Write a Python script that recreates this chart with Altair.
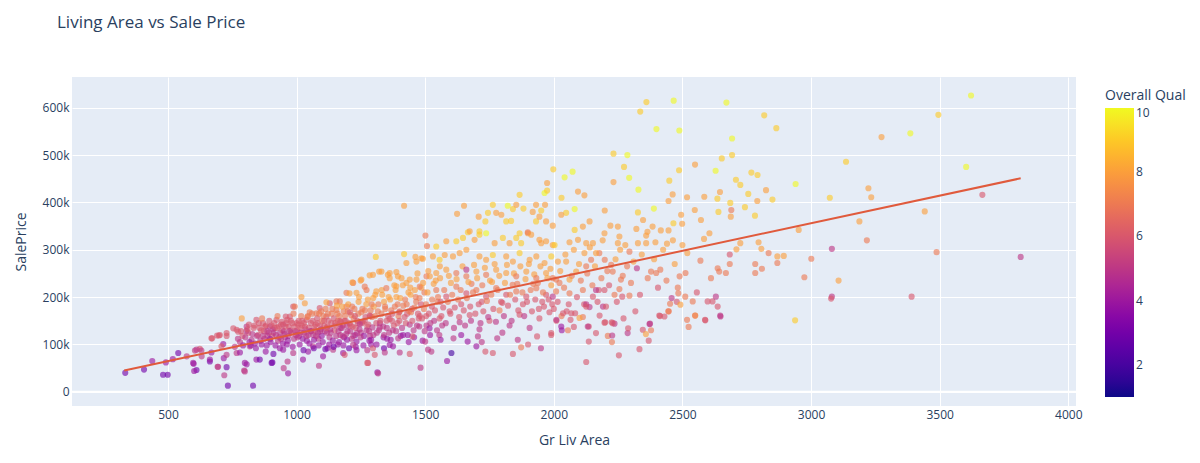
import altair as alt
import pandas as pd

# Points: (Gr Liv Area, SalePrice in $k, Overall Qual), grouped by region
low_end = [
    (334, 40, 3), (407, 47, 3), (439, 65, 4), (481, 36, 3), (499, 36, 3), (492, 62, 4), (519, 69, 4),
    (540, 82, 3), (573, 75, 5), (600, 59, 4), (611, 46, 3), (605, 87, 5), (624, 91, 6), (631, 75, 5),
    (663, 64, 3), (693, 53, 5), (672, 113, 6), (698, 119, 6), (715, 101, 4), (717, 71, 4), (728, 52, 3),
    (733, 13, 3), (719, 35, 5), (767, 82, 5), (787, 155, 8), (796, 45, 5), (831, 13, 3), (602, 44, 4),
    (691, 119, 6), (728, 118, 6), (799, 43, 5), (806, 58, 4), (903, 61, 3), (950, 50, 5), (967, 39, 4),
    (965, 64, 5), (799, 61, 4), (844, 68, 4), (857, 68, 3), (906, 62, 3), (780, 83, 4), (728, 78, 5),
    (708, 96, 6), (669, 83, 4), (663, 68, 4), (630, 87, 5), (611, 89, 5), (695, 53, 5), (598, 61, 4),
    (669, 113, 6), (702, 120, 6), (728, 124, 6), (754, 134, 6), (773, 127, 6), (818, 96, 5), (948, 89, 4),
    (987, 82, 5), (880, 85, 4), (910, 80, 3), (935, 92, 4),
]

core_low = [
    (767, 131, 6), (806, 138, 5), (844, 152, 6), (870, 145, 6), (896, 138, 5), (922, 152, 6), (948, 142, 5),
    (974, 159, 6), (1000, 145, 6), (1039, 152, 6), (1077, 166, 7), (1116, 159, 6), (1155, 173, 7),
    (1194, 180, 7), (1025, 68, 4), (1064, 96, 5), (1103, 75, 4), (1142, 89, 5), (1181, 82, 4), (1087, 55, 5),
    (1275, 61, 6), (1314, 41, 4), (1045, 85, 4), (1120, 92, 4), (1160, 100, 4), (1230, 95, 4), (1275, 88, 5),
    (1290, 100, 4), (1340, 92, 3), (780, 105, 5), (790, 118, 6), (812, 125, 6), (825, 110, 5), (838, 102, 4),
    (850, 120, 6), (862, 130, 6), (875, 112, 5), (884, 98, 4), (892, 125, 5), (905, 118, 6), (915, 135, 6),
    (928, 108, 5), (936, 125, 5), (945, 130, 6), (955, 115, 5), (962, 100, 4), (970, 138, 6), (980, 125, 6),
    (990, 112, 5), (1002, 130, 6), (1010, 118, 5), (1020, 140, 6), (1030, 125, 5), (1040, 108, 4),
    (1048, 135, 6), (1056, 145, 6), (1065, 120, 5), (1072, 130, 6), (1085, 112, 5), (1092, 140, 6),
    (1100, 150, 7), (1110, 128, 5), (1120, 138, 6), (1128, 115, 5), (1135, 145, 6), (1148, 130, 6),
    (1160, 150, 7), (1170, 120, 5), (1180, 140, 6), (1188, 160, 7), (1198, 128, 5), (1206, 145, 6),
    (1214, 112, 5), (1222, 155, 7), (1230, 135, 6), (1240, 165, 7), (1250, 125, 5), (1258, 148, 6),
    (1266, 172, 7), (1275, 138, 6), (1285, 118, 5), (1293, 158, 7), (1300, 180, 8), (1310, 145, 6),
    (1320, 130, 5), (1330, 165, 7), (1340, 190, 8), (1350, 150, 6), (1360, 125, 5), (1368, 172, 7),
    (1378, 140, 6), (1388, 200, 8), (1396, 160, 7), (1405, 118, 4), (1415, 182, 7), (1425, 145, 6),
    (1435, 210, 8), (1445, 168, 7), (1455, 130, 5), (1465, 190, 7), (1475, 155, 6), (1485, 220, 8),
    (1495, 175, 7), (1505, 140, 5), (1317, 39, 5), (1482, 51, 5), (1278, 61, 6), (1511, 89, 5), (1524, 85, 5),
    (1440, 80, 6), (1401, 83, 5), (1343, 83, 5), (1304, 78, 6), (1375, 96, 4), (1362, 99, 4), (1297, 92, 6),
    (1187, 78, 6), (1196, 110, 4), (1233, 106, 4), (1220, 99, 5), (958, 159, 6), (987, 180, 6), (1090, 177, 6),
    (1129, 187, 6), (1168, 191, 7), (993, 180, 7), (1032, 187, 8), (1019, 200, 8), (1116, 189, 8),
    (1155, 191, 7),
]

core_fill_a = [
    (805, 128, 5), (815, 142, 6), (822, 98, 4), (833, 135, 6), (846, 118, 5), (853, 145, 6), (859, 108, 5),
    (866, 155, 7), (873, 128, 6), (881, 140, 6), (887, 118, 5), (894, 150, 6), (899, 105, 4), (908, 132, 5),
    (913, 145, 6), (920, 120, 5), (926, 160, 7), (931, 138, 6), (940, 112, 5), (943, 148, 6), (951, 128, 5),
    (957, 138, 6), (964, 152, 6), (968, 118, 5), (976, 130, 6), (983, 145, 6), (988, 165, 7), (995, 128, 5),
    (1004, 115, 5), (1008, 150, 6), (1014, 135, 6), (1018, 160, 7), (1024, 112, 4), (1028, 145, 6),
    (1035, 132, 5), (1042, 158, 7), (1046, 120, 5), (1051, 168, 7), (1058, 128, 5), (1062, 150, 6),
    (1068, 110, 4), (1074, 142, 6), (1080, 155, 6), (1083, 125, 5), (1088, 165, 7), (1095, 132, 5),
    (1098, 118, 4), (1104, 160, 7), (1108, 140, 6), (1113, 175, 7), (1118, 125, 5), (1124, 150, 6),
    (1131, 132, 5), (1137, 165, 7), (1141, 108, 4), (1145, 155, 6), (1152, 140, 6), (1157, 182, 8),
    (1163, 128, 5), (1166, 160, 7), (1172, 148, 6), (1176, 135, 5), (1183, 170, 7), (1185, 115, 4),
    (1191, 150, 6), (1196, 140, 5), (1201, 185, 8), (1209, 128, 5), (1212, 162, 7), (1218, 138, 6),
    (1225, 175, 7), (1228, 120, 4), (1236, 150, 6), (1241, 190, 8), (1245, 132, 5), (1252, 168, 7),
    (1255, 145, 6), (1262, 118, 4), (1268, 158, 6), (1271, 185, 8), (1279, 142, 6), (1282, 128, 5),
    (1288, 172, 7), (1295, 136, 5), (1298, 198, 8),
]

core_fill_d = [
    (760, 95, 5), (772, 112, 5), (784, 128, 6), (792, 98, 4), (801, 115, 5), (809, 132, 6), (817, 105, 4),
    (828, 122, 5), (836, 140, 6), (842, 92, 4), (856, 135, 6), (864, 100, 4), (869, 118, 5), (878, 138, 6),
    (886, 128, 5), (897, 112, 4), (902, 140, 6), (911, 125, 5), (918, 98, 4), (924, 135, 6), (933, 115, 5),
    (939, 142, 6), (947, 102, 4), (953, 122, 5), (960, 145, 6), (966, 108, 4), (973, 128, 5), (978, 150, 6),
    (985, 95, 4), (992, 138, 6), (998, 120, 5), (1006, 142, 6), (1012, 100, 4), (1016, 125, 5),
    (1022, 150, 6), (1027, 88, 3), (1033, 138, 6), (1038, 118, 5), (1044, 160, 7), (1050, 102, 4),
    (1054, 128, 5), (1060, 165, 7), (1067, 92, 3), (1070, 138, 6), (1076, 118, 5), (1082, 145, 6),
    (1086, 98, 4), (1091, 128, 5), (1096, 170, 7), (1102, 105, 4), (1107, 150, 6), (1112, 90, 3),
    (1117, 135, 6), (1122, 165, 7), (1127, 100, 4), (1133, 125, 5), (1139, 175, 7), (1144, 95, 3),
    (1150, 145, 6), (1154, 118, 5), (1159, 165, 7), (1165, 105, 4), (1171, 135, 5), (1177, 180, 8),
    (1182, 98, 4), (1186, 150, 6), (1193, 122, 5), (1199, 170, 7), (1204, 92, 3), (1210, 140, 6),
    (1216, 180, 7), (1221, 118, 5), (1227, 160, 6), (1233, 88, 4), (1238, 145, 6), (1243, 200, 8),
    (1249, 115, 5), (1256, 175, 7), (1260, 98, 4), (1265, 150, 6), (1272, 130, 5), (1277, 195, 8),
    (1283, 108, 4), (1287, 160, 6), (1292, 185, 7), (1299, 120, 5), (1306, 205, 8), (1311, 100, 4),
    (1316, 170, 7), (1324, 145, 5), (1331, 215, 8), (1338, 115, 4), (1344, 180, 7), (1351, 135, 5),
    (1358, 200, 8), (1366, 110, 4), (1372, 165, 6), (1380, 225, 8), (1387, 128, 5), (1393, 185, 7),
    (1400, 150, 6), (1408, 240, 8), (1414, 120, 4), (1422, 195, 7), (1430, 165, 6), (1436, 105, 4),
    (1442, 220, 8), (1449, 175, 6), (1457, 115, 4), (1463, 200, 7), (1470, 250, 8), (1477, 138, 5),
    (1484, 185, 6), (1490, 108, 4), (1497, 210, 7), (1504, 160, 6), (1512, 255, 8), (1519, 120, 4),
    (1526, 180, 6), (1535, 150, 5), (1541, 235, 8), (1548, 190, 7), (1557, 265, 8), (1566, 140, 5),
]

core_mid = [
    (1168, 150, 6), (1207, 168, 6), (1246, 143, 5), (1284, 161, 6), (1323, 136, 5), (1362, 154, 6),
    (1401, 170, 7), (1440, 142, 5), (1479, 160, 6), (1517, 134, 4), (1556, 155, 6), (1595, 170, 6),
    (1634, 147, 5), (1673, 162, 6), (1711, 132, 5), (1750, 150, 6), (1789, 172, 7), (1828, 140, 5),
    (1867, 163, 6), (1906, 135, 5), (1944, 155, 6), (1983, 168, 6), (1180, 117, 5), (1235, 124, 5),
    (1290, 110, 4), (1340, 120, 5), (1395, 113, 5), (1450, 117, 6), (1500, 106, 5), (1555, 120, 5),
    (1610, 113, 5), (1665, 106, 4), (1705, 117, 5), (1780, 113, 5), (1860, 110, 5), (1935, 117, 6),
    (1990, 124, 6), (1560, 110, 4), (1640, 120, 4), (1720, 105, 5), (1800, 125, 5), (1900, 100, 6),
    (1950, 92, 5), (1602, 82, 2), (1585, 65, 4), (1699, 96, 4), (1734, 85, 6), (1763, 82, 6), (1841, 80, 6),
    (1873, 94, 7), (1543, 215, 7), (1582, 201, 6), (1621, 222, 7), (1660, 208, 6), (1699, 215, 7),
    (1737, 201, 6), (1776, 219, 7), (1815, 205, 6), (1854, 212, 7), (1893, 201, 6), (1932, 219, 7),
    (1970, 205, 6), (2009, 212, 7), (1560, 190, 6), (1600, 230, 8), (1640, 185, 6), (1680, 228, 7),
    (1720, 190, 6), (1760, 232, 8), (1800, 188, 6), (1840, 226, 7), (1880, 185, 6), (1920, 228, 7),
    (1955, 190, 6), (1990, 225, 8), (1194, 209, 7), (1233, 209, 8), (1272, 215, 7), (1310, 212, 8),
    (1349, 219, 7), (1388, 223, 8), (1427, 230, 8), (1466, 237, 8), (1505, 244, 7), (1206, 208, 8),
    (1265, 222, 7), (1440, 237, 8), (1479, 222, 7), (1518, 244, 8), (1220, 230, 7), (1252, 237, 8),
    (1297, 247, 8), (1330, 254, 8), (1362, 251, 8), (1394, 244, 8), (1217, 231, 8), (1249, 235, 8),
    (1284, 246, 8), (1321, 254, 8), (1362, 240, 8), (1388, 253, 8), (1355, 247, 8),
]

core_fill_b = [
    (1305, 160, 7), (1312, 125, 5), (1318, 185, 7), (1326, 150, 6), (1333, 205, 8), (1337, 138, 5),
    (1345, 175, 7), (1352, 112, 4), (1356, 160, 6), (1364, 195, 8), (1371, 150, 6), (1374, 130, 5),
    (1382, 180, 7), (1385, 215, 8), (1392, 145, 6), (1399, 168, 6), (1403, 198, 8), (1410, 135, 5),
    (1413, 225, 8), (1420, 158, 6), (1428, 185, 7), (1432, 120, 4), (1438, 170, 7), (1443, 205, 8),
    (1450, 150, 6), (1458, 178, 7), (1460, 215, 8), (1468, 140, 5), (1472, 165, 6), (1478, 198, 7),
    (1488, 155, 6), (1492, 230, 8), (1498, 128, 5), (1503, 185, 7), (1509, 210, 8), (1514, 165, 6),
    (1520, 145, 5), (1527, 195, 7), (1533, 228, 8), (1538, 172, 6), (1546, 130, 5), (1550, 200, 7),
    (1558, 240, 8), (1563, 160, 6), (1570, 178, 6), (1574, 215, 7), (1580, 145, 5), (1588, 190, 7),
    (1592, 245, 8), (1598, 165, 6), (1605, 205, 7), (1612, 135, 5), (1615, 178, 6), (1622, 238, 8),
    (1628, 195, 7), (1632, 158, 6), (1638, 215, 7), (1645, 265, 8), (1650, 172, 6), (1655, 140, 5),
    (1662, 198, 7), (1668, 232, 8), (1675, 180, 6), (1678, 150, 5), (1686, 210, 7), (1690, 268, 8),
    (1695, 165, 6), (1702, 240, 8), (1708, 185, 6), (1715, 145, 5), (1722, 225, 7), (1726, 170, 6),
    (1732, 262, 8), (1740, 192, 7), (1745, 158, 5), (1752, 235, 8), (1757, 205, 7), (1765, 175, 6),
    (1770, 270, 8), (1775, 148, 5), (1782, 215, 7), (1788, 245, 8), (1795, 190, 6), (1806, 160, 5),
    (1810, 230, 8), (1818, 268, 8), (1822, 182, 6), (1830, 205, 7), (1836, 150, 5), (1845, 250, 8),
    (1850, 195, 6), (1858, 228, 7), (1862, 172, 6), (1870, 265, 8), (1878, 210, 7), (1885, 160, 5),
    (1890, 238, 8), (1896, 190, 6), (1903, 270, 8), (1910, 215, 7), (1915, 170, 6), (1924, 248, 8),
    (1928, 195, 6), (1938, 230, 7), (1942, 175, 6), (1948, 265, 8), (1958, 210, 7), (1962, 180, 6),
    (1975, 240, 8), (1980, 195, 6), (1987, 260, 8), (1994, 185, 6),
]

core_high = [
    (1308, 285, 9), (1418, 291, 9), (1462, 285, 8), (1491, 281, 8), (1427, 272, 8), (1466, 275, 8),
    (1485, 282, 8), (1501, 330, 7), (1507, 308, 7), (1418, 393, 8), (1543, 251, 8), (1582, 258, 8),
    (1621, 251, 7), (1660, 244, 7), (1699, 254, 8), (1737, 247, 7), (1776, 258, 8), (1815, 251, 8),
    (1854, 244, 7), (1893, 254, 8), (1932, 240, 7), (1970, 251, 8), (2009, 237, 7), (1530, 286, 8),
    (1556, 279, 9), (1576, 289, 8), (1608, 286, 8), (1634, 293, 8), (1660, 300, 8), (1660, 258, 5),
    (1711, 286, 8), (1737, 279, 8), (1763, 289, 9), (1815, 286, 8), (1841, 275, 8), (1867, 293, 9),
    (1906, 279, 8), (1932, 286, 8), (1964, 272, 8), (1990, 286, 9), (1543, 307, 9), (1582, 318, 8),
    (1621, 318, 9), (1666, 337, 9), (1692, 321, 8), (1711, 332, 9), (1737, 335, 10), (1770, 314, 8),
    (1802, 325, 9), (1828, 314, 8), (1867, 335, 9), (1899, 335, 8), (1873, 314, 9), (1951, 314, 8),
    (1970, 318, 8), (1996, 310, 8), (1651, 393, 8), (1624, 376, 8), (1708, 370, 8), (1744, 378, 9),
    (1763, 395, 9), (1776, 378, 8), (1796, 374, 8), (1821, 393, 10), (1841, 386, 9), (1854, 395, 8),
    (1882, 387, 9), (1918, 380, 8), (1931, 395, 8), (1951, 383, 9), (1966, 395, 8), (1964, 420, 10),
    (1974, 425, 9), (1974, 441, 8), (1867, 416, 9), (1815, 360, 9), (1834, 361, 9), (1734, 360, 9),
    (1899, 337, 7), (1673, 339, 8), (1711, 339, 9), (1647, 325, 9), (1944, 321, 8), (1854, 325, 9),
    (1912, 332, 8), (1931, 360, 9), (1944, 370, 8), (1970, 360, 8),
]

core_fill_c = [
    (2015, 190, 6), (2025, 255, 8), (2040, 220, 7), (2045, 290, 8), (2058, 185, 6), (2070, 245, 7),
    (2078, 300, 8), (2090, 200, 6), (2098, 270, 8), (2105, 235, 7), (2118, 185, 6), (2130, 250, 7),
    (2140, 305, 8), (2150, 225, 7), (2160, 265, 8), (2170, 190, 6), (2185, 240, 7), (2190, 320, 8),
    (2208, 255, 7), (2215, 225, 6), (2240, 280, 8), (2245, 190, 6), (2268, 245, 7), (2278, 310, 8),
    (2300, 230, 7), (2310, 275, 8), (2335, 205, 6), (2342, 290, 8), (2365, 240, 7), (2390, 280, 8),
    (2405, 220, 6), (2425, 300, 8), (2438, 235, 7), (2470, 270, 8), (2478, 190, 6), (2500, 310, 8),
]

upper_right = [
    (2126, 63, 6), (2253, 77, 6), (2333, 90, 6), (2369, 108, 6), (2136, 106, 6), (2226, 105, 7),
    (2164, 124, 6), (2210, 118, 7), (2227, 119, 5), (2287, 124, 5), (2289, 134, 6), (2197, 146, 6),
    (2225, 147, 6), (2236, 144, 5), (2271, 155, 6), (2317, 170, 6), (2346, 131, 6), (2358, 122, 8),
    (2378, 130, 7), (2374, 144, 5), (2410, 161, 6), (2445, 170, 7), (2452, 186, 7), (2492, 184, 8),
    (2518, 152, 7), (2524, 137, 7), (2550, 161, 8), (2589, 151, 6), (2637, 180, 6), (2647, 161, 5),
    (2598, 191, 6), (2617, 191, 6), (2540, 191, 7), (2938, 151, 9), (2078, 137, 6), (2031, 130, 4),
    (2055, 130, 7), (1990, 120, 6), (2113, 158, 7), (2100, 156, 8), (2136, 138, 6), (2178, 161, 6),
    (2191, 180, 5), (2126, 185, 5), (2139, 179, 5), (2000, 175, 6), (2030, 160, 7), (2010, 150, 6),
    (2050, 170, 6), (3622, 626, 10), (3495, 585, 9), (2360, 612, 9), (2466, 615, 10), (2671, 611, 10),
    (2336, 592, 9), (2818, 584, 9), (2865, 557, 9), (2399, 555, 10), (2488, 552, 10), (2693, 535, 10),
    (3274, 538, 8), (3386, 546, 10), (3136, 486, 9), (3603, 475, 10), (2232, 503, 9), (2286, 500, 10),
    (2273, 475, 9), (2293, 452, 10), (2329, 427, 10), (2232, 443, 8), (1998, 470, 9), (2042, 453, 10),
    (2073, 465, 10), (2030, 410, 9), (2094, 423, 8), (2119, 415, 8), (2081, 386, 10), (2198, 383, 8),
    (2449, 446, 9), (2487, 468, 9), (2549, 480, 8), (2629, 467, 10), (2653, 493, 9), (2693, 500, 9),
    (2462, 417, 8), (2446, 403, 8), (2518, 411, 8), (2585, 412, 8), (2636, 408, 9), (2646, 422, 8),
    (2686, 399, 9), (2708, 448, 9), (2725, 437, 9), (2768, 463, 9), (2792, 458, 9), (2756, 418, 9),
    (2825, 426, 8), (2850, 406, 9), (2791, 403, 8), (2743, 390, 9), (2690, 384, 7), (2688, 370, 8),
    (2640, 380, 9), (2782, 372, 9), (2940, 439, 10), (3073, 410, 9), (3223, 430, 8), (3234, 411, 8),
    (3442, 381, 8), (3666, 416, 6), (3815, 285, 5), (3188, 360, 8), (3217, 320, 7), (3488, 295, 7),
    (3391, 201, 6), (3081, 302, 5), (3081, 201, 5), (3078, 197, 6), (3107, 235, 8), (2974, 242, 7),
    (3001, 281, 7), (2952, 342, 8), (2894, 287, 8), (2869, 286, 8), (2869, 272, 7), (2835, 293, 7),
    (2809, 260, 7), (2783, 270, 7), (2783, 251, 7), (2796, 316, 8), (2807, 302, 8), (2725, 314, 8),
    (2710, 301, 8), (2684, 290, 6), (2684, 270, 7), (2648, 159, 5), (2630, 201, 5), (2669, 251, 7),
    (2643, 254, 7), (2637, 261, 7), (2611, 240, 7), (2588, 152, 6), (2556, 210, 6), (2549, 161, 7),
    (2511, 201, 7), (2482, 220, 7), (2484, 208, 7), (2458, 198, 5), (2447, 170, 7), (2430, 159, 6),
    (2413, 160, 6), (2372, 143, 5), (2229, 145, 6), (2200, 147, 6), (2132, 138, 5), (2489, 244, 7),
    (2512, 251, 7), (2519, 293, 8), (2495, 374, 8), (2499, 355, 8), (2465, 356, 9), (2548, 384, 8),
    (2572, 363, 8), (2605, 335, 8), (2584, 323, 8), (2570, 277, 7), (2446, 341, 8), (2463, 320, 8),
    (2440, 313, 8), (2416, 341, 8), (2389, 387, 10), (2347, 363, 8), (2384, 349, 8), (2327, 379, 9),
    (2321, 344, 8), (2364, 338, 8), (2359, 330, 8), (2327, 314, 8), (2359, 314, 8), (2395, 316, 8),
    (2414, 258, 7), (2398, 251, 7), (2378, 254, 7), (2323, 261, 5), (2255, 328, 8), (2249, 314, 8),
    (2258, 300, 8), (2294, 296, 7), (2285, 265, 7), (2261, 237, 7), (2255, 217, 7), (2294, 203, 7),
    (2266, 201, 6), (2236, 205, 7), (2197, 215, 6), (2175, 215, 6), (2203, 180, 6), (2198, 279, 7),
    (2177, 293, 7), (2223, 268, 7), (2229, 254, 7), (2220, 351, 8), (2249, 349, 8), (2197, 335, 8),
    (2152, 314, 8), (2126, 314, 8), (2094, 321, 8), (2061, 316, 8), (2113, 349, 8), (2081, 342, 9),
    (2139, 360, 8), (2048, 378, 9), (2029, 374, 8), (1996, 351, 8), (2003, 310, 9), (2048, 275, 8),
    (2016, 275, 8), (2119, 293, 8), (2145, 279, 7), (2164, 293, 8), (2126, 265, 7), (2087, 254, 8),
    (2061, 237, 8), (2022, 230, 7), (1996, 240, 7), (2113, 215, 7), (2152, 201, 6), (2061, 208, 7),
    (1996, 201, 5), (2126, 180, 6), (2068, 166, 6), (2036, 166, 6), (2010, 152, 5), (2164, 215, 5),
    (2083, 166, 6), (2065, 152, 6), (2029, 138, 4),
]

# OLS trendline end points as drawn in the reference
trend_area = [330, 3815]
trend_price = [45000, 451000]

x_ticks = [500, 1000, 1500, 2000, 2500, 3000, 3500, 4000]
y_ticks = [0, 100000, 200000, 300000, 400000, 500000, 600000]
qual_ticks = [2, 4, 6, 8, 10]

font = "Open Sans"
ink = "#2a3f5f"

rows = (low_end + core_low + core_fill_a + core_fill_d + core_mid + core_fill_b
        + core_high + core_fill_c + upper_right)
df = pd.DataFrame(rows, columns=["GrLivArea", "PriceK", "OverallQual"])
df["SalePrice"] = df["PriceK"] * 1000

trend_df = pd.DataFrame({"GrLivArea": trend_area, "SalePrice": trend_price})
zero_df = pd.DataFrame({"SalePrice": [0]})

x_scale = alt.Scale(domain=[127, 4030], nice=False, zero=False)
y_scale = alt.Scale(domain=[-30000, 665000], nice=False, zero=False)

x_enc = alt.X("GrLivArea:Q", scale=x_scale, title="Gr Liv Area",
              axis=alt.Axis(values=x_ticks, format="d", titlePadding=13))
y_enc = alt.Y("SalePrice:Q", scale=y_scale, title="SalePrice",
              axis=alt.Axis(values=y_ticks, format="~s", titlePadding=14,
                            labelExpr="datum.value === 0 ? '0' : datum.label"))

points = alt.Chart(df).mark_circle(size=38, fillOpacity=0.62, strokeWidth=0).encode(
    x=x_enc,
    y=y_enc,
    color=alt.Color("OverallQual:Q",
                    scale=alt.Scale(scheme="plasma", domain=[1, 10]),
                    legend=alt.Legend(title="Overall Qual", orient="none", legendX=1033, legendY=12,
                                      direction="vertical", gradientLength=289, gradientThickness=29,
                                      values=qual_ticks, labelOverlap=False, gradientStrokeWidth=0,
                                      titlePadding=5, padding=0)),
)

zero_line = alt.Chart(zero_df).mark_rule(color="white", strokeWidth=2).encode(y=y_enc)

trend = alt.Chart(trend_df).mark_line(color="#e05a3c", strokeWidth=2).encode(x=x_enc, y=y_enc)

chart = alt.layer(zero_line, points, trend).properties(
    width=1004,
    height=329,
    padding={"left": 64, "top": 69, "right": 110, "bottom": 48},
    autosize=alt.AutoSizeParams(type="none"),
    title=alt.TitleParams("Living Area vs Sale Price", anchor="start", frame="group", font=font,
                          fontSize=17, fontWeight="normal", color=ink, dx=-15, offset=45),
).configure_view(
    fill="#E5ECF6", stroke=None
).configure_axis(
    grid=True, gridColor="white", gridWidth=1, domain=False, ticks=False,
    labelFont=font, labelFontSize=12, labelColor=ink, labelPadding=3,
    titleFont=font, titleFontSize=14, titleColor=ink, titleFontWeight="normal",
).configure_legend(
    labelFont=font, labelFontSize=12, labelColor=ink,
    titleFont=font, titleFontSize=14, titleColor=ink, titleFontWeight="normal",
)

chart.save("out.html", embed_options={"renderer": "svg", "actions": False})
